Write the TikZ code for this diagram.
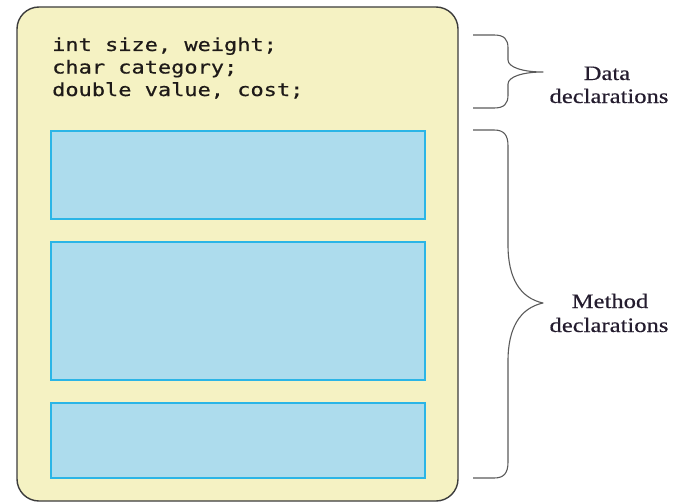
\documentclass[tikz,border=0pt]{standalone}
\usepackage{fontspec}
\newfontfamily\codefont{DejaVu Sans Mono}[FakeStretch=1.22,FakeBold=0.6]
\newfontfamily\labelfont{Liberation Serif}[FakeStretch=1.2,FakeBold=0.4]
\definecolor{classfill}{HTML}{F5F2C3}
\definecolor{classedge}{HTML}{3C3C3C}
\definecolor{methfill}{HTML}{ADDCED}
\definecolor{methedge}{HTML}{2BB5E6}
\definecolor{bracecol}{HTML}{5A5A5A}
\definecolor{textcol}{HTML}{1E1A18}
\definecolor{labelcol}{HTML}{241C2E}
\tikzset{
  classbox/.style={draw=classedge, fill=classfill, line width=1.4pt, rounded corners=22pt},
  methodbox/.style={draw=methedge, fill=methfill, line width=1.2pt},
  codeline/.style={anchor=base west, inner sep=0pt, text=textcol,
    font=\codefont\fontsize{18}{22}\selectfont},
  bracelabel/.style={anchor=base, inner sep=0pt, text=labelcol,
    font=\labelfont\fontsize{20.5}{24}\selectfont},
  bracepath/.style={draw=bracecol, line width=1.1pt, line join=round}
}
\begin{document}
\begin{tikzpicture}[x=1pt,y=-1pt]
  \useasboundingbox (0,0) rectangle (676,503);

  % class body
  \path[classbox] (17,7) rectangle (458,501);

  % data declarations
  \node[codeline] (l1) at (52,51) {int size, weight;};
  \node[codeline] (l2) at (52,73.5) {char category;};
  \node[codeline] (l3) at (52,96) {double value, cost;};

  % method bodies
  \path[methodbox] (51,131) rectangle (425,219) node[midway] (m1) {};
  \path[methodbox] (51,242) rectangle (425,380) node[midway] (m2) {};
  \path[methodbox] (51,403) rectangle (425,478) node[midway] (m3) {};

  % brace for the data part
  \coordinate (dtop) at (473,35);
  \coordinate (dtip) at (543,72);
  \coordinate (dbot) at (473,108);
  \draw[bracepath] (dtop) -- (494,35)
    .. controls (504,35) and (508,39) .. (508,48)
    -- (508,60)
    .. controls (508,67) and (522,72) .. (dtip)
    .. controls (522,72) and (508,77) .. (508,84)
    -- (508,95)
    .. controls (508,104) and (504,108) .. (494,108)
    -- (dbot);

  % brace for the methods
  \coordinate (mtop) at (473,130);
  \coordinate (mtip) at (543,303);
  \coordinate (mbot) at (473,478);
  \draw[bracepath] (mtop) -- (494,130)
    .. controls (504,130) and (508,135) .. (508,146)
    -- (508,245)
    .. controls (508,278) and (520,298) .. (mtip)
    .. controls (520,308) and (508,328) .. (508,361)
    -- (508,462)
    .. controls (508,473) and (504,478) .. (494,478)
    -- (mbot);

  % brace labels
  \node[bracelabel] (dl1) at (607,80) {Data};
  \node[bracelabel] (dl2) at (609,103) {declarations};
  \node[bracelabel] (ml1) at (610,308) {Method};
  \node[bracelabel] (ml2) at (609,332) {declarations};
\end{tikzpicture}
\end{document}
